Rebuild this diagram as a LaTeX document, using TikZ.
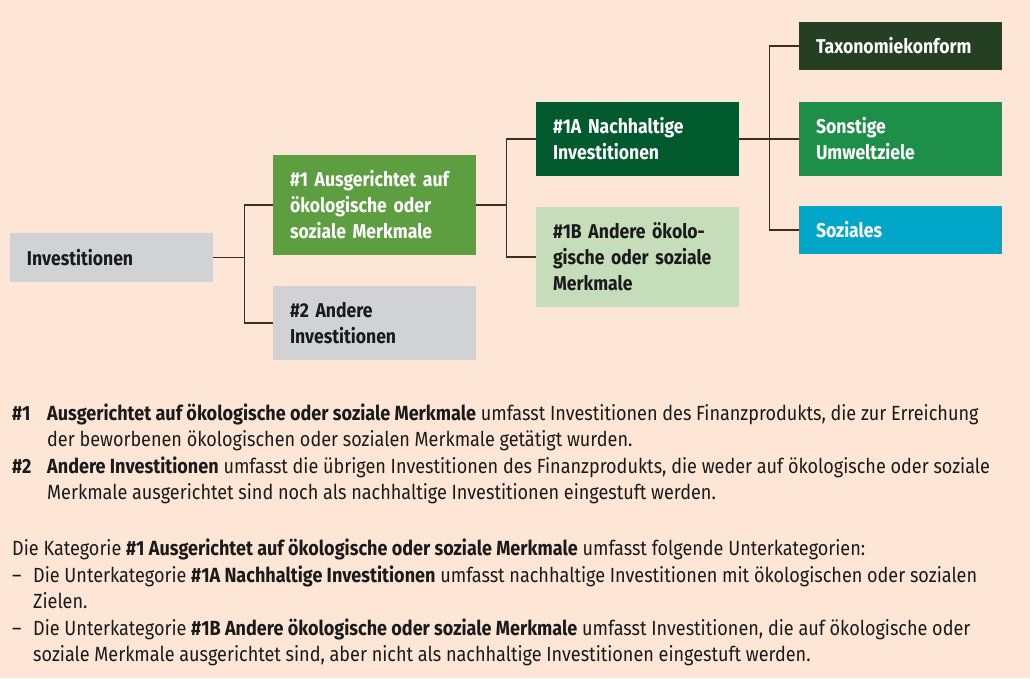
\documentclass[tikz,border=0pt]{standalone}
\usepackage{fontspec}
\setmainfont{Fira Sans}[FakeStretch=0.88]
\usepackage{xcolor}
\definecolor{bgpeach}{HTML}{FDE6D5}
\definecolor{boxgray}{HTML}{D1D2D4}
\definecolor{greenone}{HTML}{5C9E40}
\definecolor{greenonea}{HTML}{005A2E}
\definecolor{greenoneb}{HTML}{C6DDBA}
\definecolor{taxgreen}{HTML}{243F22}
\definecolor{envgreen}{HTML}{1E8F48}
\definecolor{socblue}{HTML}{00A6C8}
\definecolor{linkbrown}{HTML}{3A2E26}
\definecolor{textdark}{HTML}{1A1A1A}

\begin{document}
\begin{tikzpicture}[x=1pt,y=-1pt,
    box/.style={anchor=center, text width=169pt, inner xsep=17pt, inner ysep=0pt,
        align=left, font=\fontsize{20}{26}\selectfont\bfseries},
    darkbox/.style={box, text=white},
    lightbox/.style={box, text=textdark},
    link/.style={draw=linkbrown, line width=1.4pt},
    body/.style={anchor=base west, inner sep=0pt, text=textdark,
        font=\fontsize{20.5}{26}\selectfont}]
    \fill [bgpeach] (0,0) rectangle (1030,678);
    \useasboundingbox (0,0) rectangle (1030,678);

    \node[lightbox, fill=boxgray, minimum height=49pt] (inv) at (111.5,257.5) {Investitionen};
    \node[darkbox, fill=greenone, minimum height=100pt] (one) at (374.5,205) {\#1 Ausgerichtet auf\\ökologische oder\\soziale Merkmale};
    \node[lightbox, fill=boxgray, minimum height=74pt] (two) at (374.5,323) {\#2 Andere\\Investitionen};
    \node[darkbox, fill=greenonea, minimum height=74pt] (onea) at (637.5,139) {\#1A Nachhaltige\\Investitionen};
    \node[lightbox, fill=greenoneb, minimum height=100pt] (oneb) at (637.5,257) {\#1B Andere ökolo-\\gische oder soziale\\Merkmale};
    \node[darkbox, fill=taxgreen, minimum height=48pt] (tax) at (900.5,46) {Taxonomiekonform};
    \node[darkbox, fill=envgreen, minimum height=74pt] (env) at (900.5,139) {Sonstige\\Umweltziele};
    \node[darkbox, fill=socblue, minimum height=48pt] (soc) at (900.5,230) {Soziales};

    \draw [link] (inv.east) -- ++(31,0) coordinate (j1);
    \draw [link] (one.west) -| (j1) |- (two.west);
    \draw [link] (one.east) -- ++(30,0) coordinate (j2);
    \draw [link] (onea.west) -| (j2) |- (oneb.west);
    \draw [link] (onea.east) -- ++(30,0) coordinate (j3);
    \draw [link] (tax.west) -| (j3) |- (soc.west);
    \draw [link] (j3) -- (env.west);

    \foreach \xx/\yy/\txt [count=\i] in {
        12/420.5/{\textbf{\#1}},
        47/420.5/{\textbf{Ausgerichtet auf ökologische oder soziale Merkmale} umfasst Investitionen des Finanzprodukts, die zur Erreichung},
        47/446.8/{der beworbenen ökologischen oder sozialen Merkmale getätigt wurden.},
        12/473/{\textbf{\#2}},
        47/473/{\textbf{Andere Investitionen} umfasst die übrigen Investitionen des Finanzprodukts, die weder auf ökologische oder soziale},
        47/499.3/{Merkmale ausgerichtet sind noch als nachhaltige Investitionen eingestuft werden.},
        12/555.5/{Die Kategorie \textbf{\#1 Ausgerichtet auf ökologische oder soziale Merkmale} umfasst folgende Unterkategorien:},
        12/582/{–},
        33/582/{Die Unterkategorie \textbf{\#1A Nachhaltige Investitionen} umfasst nachhaltige Investitionen mit ökologischen oder sozialen},
        33/608.5/{Zielen.},
        12/635/{–},
        33/635/{Die Unterkategorie \textbf{\#1B Andere ökologische oder soziale Merkmale} umfasst Investitionen, die auf ökologische oder},
        33/661.5/{soziale Merkmale ausgerichtet sind, aber nicht als nachhaltige Investitionen eingestuft werden.}
    } {
        \node[body] (line\i) at (\xx,\yy) {\txt};
    }
\end{tikzpicture}
\end{document}
